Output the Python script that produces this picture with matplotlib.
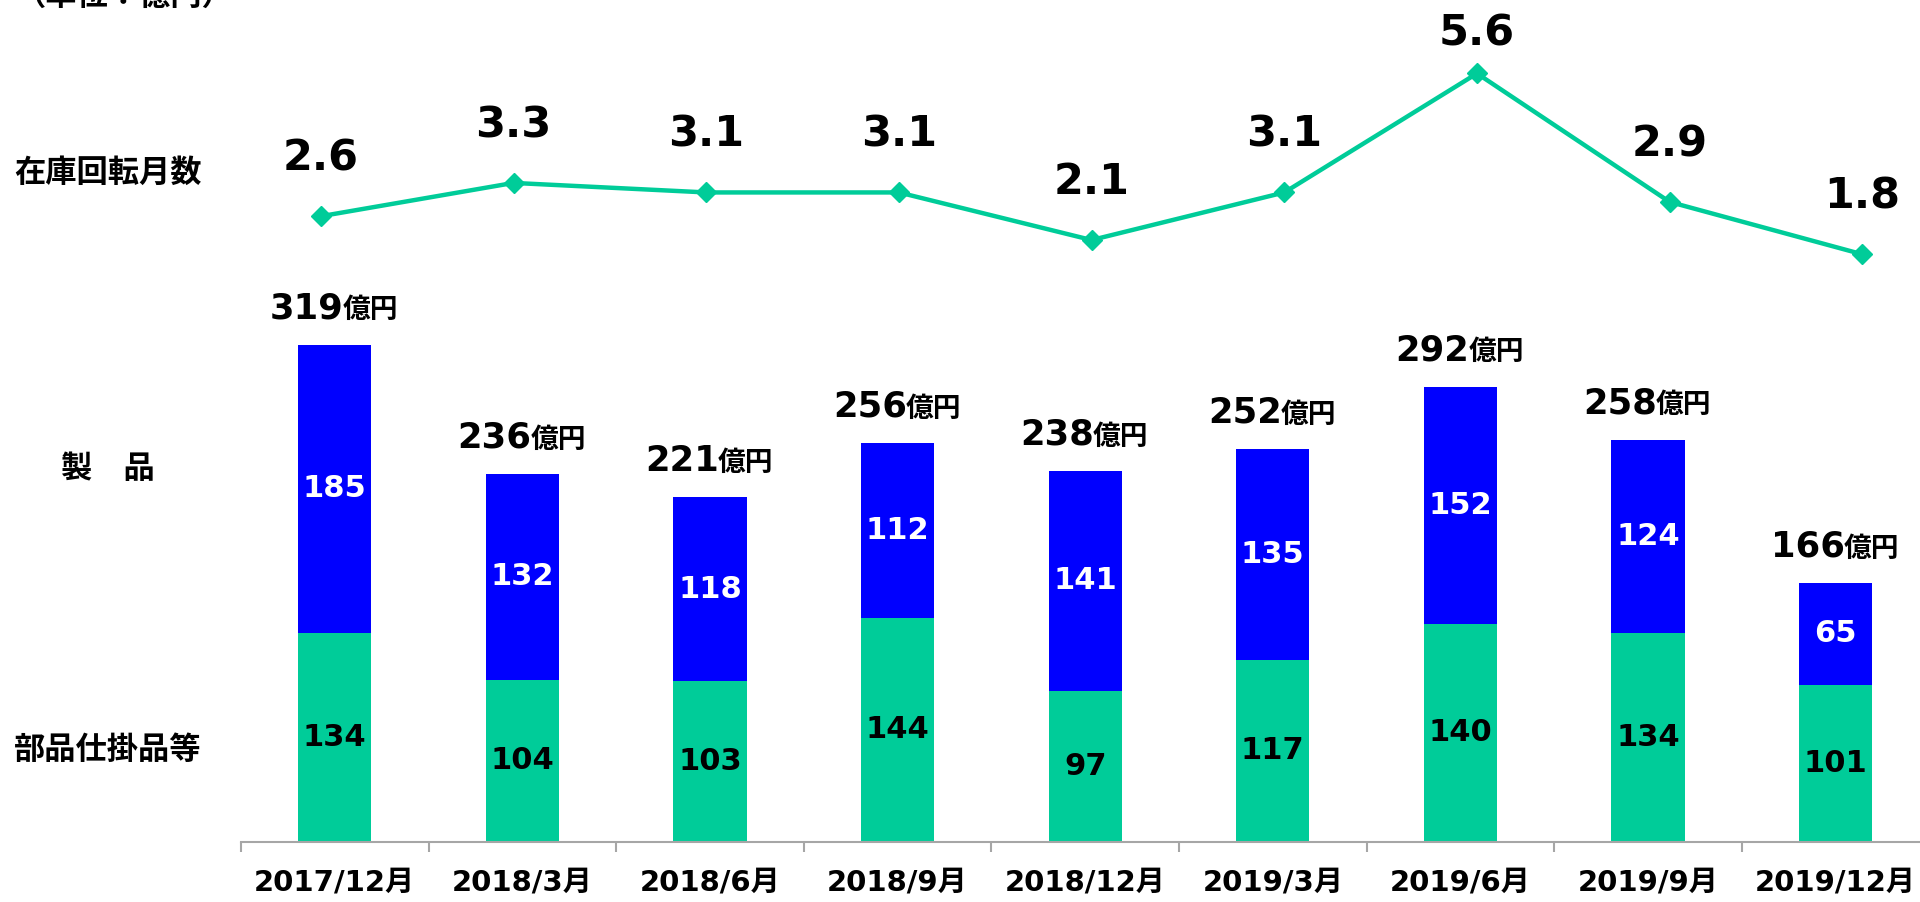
import matplotlib
matplotlib.use('Agg')
import matplotlib.pyplot as plt
import numpy as np

# ---- data ----
categories = ['2017/12月', '2018/3月', '2018/6月', '2018/9月', '2018/12月',
              '2019/3月', '2019/6月', '2019/9月', '2019/12月']
parts_wip = [134, 104, 103, 144, 97, 117, 140, 134, 101]      # 部品仕掛品等
products = [185, 132, 118, 112, 141, 135, 152, 124, 65]        # 製品
turnover_months = [2.6, 3.3, 3.1, 3.1, 2.1, 3.1, 5.6, 2.9, 1.8]  # 在庫回転月数
unit_suffix = '億円'
row_labels = ['在庫回転月数', '製　品', '部品仕掛品等']
unit_label = '（単位：億円）'

GREEN = '#00CC99'
BLUE = '#0000FF'
AXIS_GRAY = '#A6A6A6'
NUM = ['DejaVu Sans', 'Noto Sans CJK JP']
CJK = ['Noto Sans CJK JP', 'DejaVu Sans']

W, H, DPI = 1920, 902, 100
fig = plt.figure(figsize=(W / DPI, H / DPI), dpi=DPI)
fig.patch.set_facecolor('white')

n = len(categories)
cat_w = 187.6
left = 241 / W
width = n * cat_w / W
px_per_unit = 1.559
ymax = 350

ax = fig.add_axes([left, 60 / H, width, ymax * px_per_unit / H])
x = np.arange(n)
bw = 0.39
ax.bar(x, parts_wip, width=bw, color=GREEN, zorder=2)
ax.bar(x, products, bottom=parts_wip, width=bw, color=BLUE, zorder=2)
ax.set_xlim(-0.5, n - 0.5)
ax.set_ylim(0, ymax)

for s in ['top', 'right', 'left']:
    ax.spines[s].set_visible(False)
ax.spines['bottom'].set_color(AXIS_GRAY)
ax.spines['bottom'].set_linewidth(1.5)
ax.set_yticks([])
ax.set_xticks(x)
ax.set_xticklabels(categories, fontsize=21, fontweight='bold', family=NUM)
ax.tick_params(axis='x', which='major', length=0, pad=19)
ax.set_xticks(np.arange(-0.5, n), minor=True)
ax.tick_params(axis='x', which='minor', length=7.5, width=1.5, color=AXIS_GRAY)

# segment labels
for xi, g, b in zip(x, parts_wip, products):
    ax.text(xi, g / 2, f'{g}', ha='center', va='center', fontsize=22,
            fontweight='bold', family=NUM, color='black', zorder=3)
    ax.text(xi, g + b / 2, f'{b}', ha='center', va='center', fontsize=22,
            fontweight='bold', family=NUM, color='white', zorder=3)

# totals with unit
renderer = fig.canvas.get_renderer()
totals = np.add(parts_wip, products)
dy = 19
for xi, t in zip(x, totals):
    num = ax.annotate(f'{t}', (xi, t), xytext=(0, dy), textcoords='offset points',
                      ha='left', va='baseline', fontsize=25.5, fontweight='bold',
                      family=NUM, annotation_clip=False)
    unit = ax.annotate(unit_suffix, (xi, t), xytext=(0, dy), textcoords='offset points',
                       ha='left', va='baseline', fontsize=20, fontweight='bold',
                       family=CJK, annotation_clip=False)
    w1 = num.get_window_extent(renderer).width * 72 / DPI
    w2 = unit.get_window_extent(renderer).width * 72 / DPI
    start = -(w1 + w2) / 2
    num.set_position((start, dy))
    unit.set_position((start + w1 - 1, dy))

# line axes (its own horizontal spacing, slightly wider than the bars)
line_w = 192.7
line_left = 320.8 - line_w / 2
lax = fig.add_axes([line_left / W, 562 / H, n * line_w / W, 6 * 47.6 / H])
lax.set_xlim(-0.5, n - 0.5)
lax.set_ylim(0, 6)
lax.axis('off')
lax.plot(x, turnover_months, color=GREEN, lw=3.2, marker='D', ms=10.5, zorder=3)
vmax = max(turnover_months)
for xi, v in zip(x, turnover_months):
    off = 29 if v == vmax else 41.5
    lax.annotate(f'{v:.1f}', (xi, v), xytext=(0, off), textcoords='offset points',
                 ha='center', va='center', fontsize=31, fontweight='bold',
                 family=NUM, annotation_clip=False)

# row labels
row_y = [173, 469, 750]
for lbl, yy in zip(row_labels, row_y):
    fig.text(108 / W, 1 - yy / H, lbl, ha='center', va='center', fontsize=22.5,
             fontweight='bold', family=CJK)
fig.text(124 / W, 1 + 3 / H, unit_label, ha='center', va='center', fontsize=22.5,
         fontweight='bold', family=CJK)

fig.savefig('out.png', dpi=DPI, facecolor='white')
